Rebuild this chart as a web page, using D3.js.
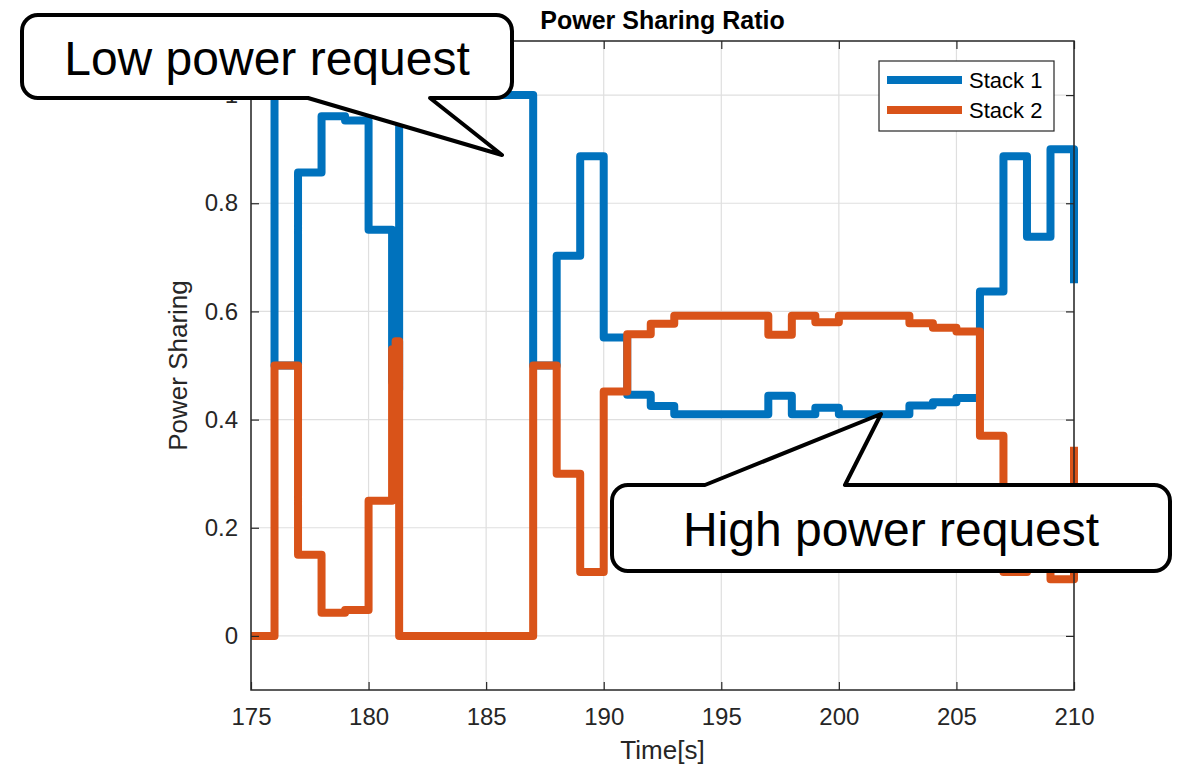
<!DOCTYPE html>
<html>
<head>
<meta charset="utf-8">
<script src="https://cdn.jsdelivr.net/npm/d3@7"></script>
<style>
  html, body { margin: 0; padding: 0; background: #fff; }
  svg { display: block; font-family: "Liberation Sans", Arial, Helvetica, sans-serif; }
</style>
</head>
<body>
<svg id="chart" width="1178" height="766"></svg>
<script>
// ---- data ----
const times = [175, 176, 177, 178, 179, 180, 181, 181.15, 181.3, 182, 183, 184, 185, 186,
               187, 188, 189, 190, 191, 192, 193, 194, 195, 196, 197, 198, 199, 200,
               201, 202, 203, 204, 205, 206, 207, 208, 209, 210];
const stack1 = [1.0, 0.5, 0.857, 0.961, 0.953, 0.751, 0.47, 0.455, 1.0, 1.0, 1.0, 1.0, 1.0, 1.0,
                0.5, 0.703, 0.887, 0.552, 0.446, 0.425, 0.41, 0.41, 0.41, 0.41, 0.444, 0.41, 0.422, 0.41,
                0.41, 0.41, 0.426, 0.432, 0.44, 0.637, 0.887, 0.738, 0.9, 0.652];
const stack2 = [0.0, 0.5, 0.15, 0.043, 0.048, 0.25, 0.53, 0.545, 0.0, 0.0, 0.0, 0.0, 0.0, 0.0,
                0.5, 0.3, 0.118, 0.452, 0.558, 0.577, 0.592, 0.592, 0.592, 0.592, 0.557, 0.592, 0.58, 0.592,
                0.592, 0.592, 0.578, 0.57, 0.563, 0.37, 0.118, 0.262, 0.105, 0.35];
const seriesNames = ["Stack 1", "Stack 2"];
const xTicks = [175, 180, 185, 190, 195, 200, 205, 210];
const yTicks = [0, 0.2, 0.4, 0.6, 0.8, 1];
const xDomain = [175, 210];
const yDomain = [-0.1, 1.1];
const titleText = "Power Sharing Ratio";
const xLabel = "Time[s]";
const yLabel = "Power Sharing";
const calloutLow = "Low power request";
const calloutHigh = "High power request";

// ---- layout ----
const L = 251, R = 1074, T = 41, B = 690;
const colors = ["#0072BD", "#D95319"];
const axisColor = "#262626";
const gridColor = "#dfdfdf";

const svg = d3.select("#chart");
const x = d3.scaleLinear().domain(xDomain).range([L, R]);
const y = d3.scaleLinear().domain(yDomain).range([B, T]);

// grid
const grid = svg.append("g");
grid.selectAll("line.gx").data(xTicks).join("line")
  .attr("x1", d => x(d)).attr("x2", d => x(d)).attr("y1", T).attr("y2", B)
  .attr("stroke", gridColor).attr("stroke-width", 1.2);
grid.selectAll("line.gy").data(yTicks).join("line")
  .attr("y1", d => y(d)).attr("y2", d => y(d)).attr("x1", L).attr("x2", R)
  .attr("stroke", gridColor).attr("stroke-width", 1.2);

// lines
const line = d3.line().x(d => x(d[0])).y(d => y(d[1])).curve(d3.curveStepAfter);
[stack1, stack2].forEach((vals, i) => {
  svg.append("path")
    .datum(times.map((t, k) => [t, vals[k]]))
    .attr("d", line)
    .attr("fill", "none")
    .attr("stroke", colors[i])
    .attr("stroke-width", 8)
    .attr("stroke-linejoin", "round")
    .attr("stroke-linecap", "butt");
});

// axes
function styleAxis(g) {
  g.select(".domain").remove();
  g.selectAll(".tick line").attr("stroke", axisColor).attr("stroke-width", 1.2);
  g.selectAll(".tick text").attr("fill", axisColor).attr("font-size", 24)
    .attr("font-family", "Liberation Sans, Arial, sans-serif");
}
const fmt = d3.format("~g");
svg.append("g").attr("transform", `translate(0,${B})`)
  .call(d3.axisBottom(x).tickValues(xTicks).tickFormat(fmt).tickSize(-8).tickPadding(18))
  .call(styleAxis);
svg.append("g").attr("transform", `translate(0,${T})`)
  .call(d3.axisTop(x).tickValues(xTicks).tickFormat("").tickSize(-8))
  .call(styleAxis);
svg.append("g").attr("transform", `translate(${L},0)`)
  .call(d3.axisLeft(y).tickValues(yTicks).tickFormat(fmt).tickSize(-8).tickPadding(13))
  .call(styleAxis);
svg.append("g").attr("transform", `translate(${R},0)`)
  .call(d3.axisRight(y).tickValues(yTicks).tickFormat("").tickSize(-8))
  .call(styleAxis);

// box
svg.append("rect").attr("x", L).attr("y", T).attr("width", R - L).attr("height", B - T)
  .attr("fill", "none").attr("stroke", axisColor).attr("stroke-width", 1.5);

// labels
svg.append("text").attr("x", (L + R) / 2).attr("y", 29).attr("text-anchor", "middle")
  .attr("font-size", 25).attr("font-weight", "bold").attr("fill", "#000").text(titleText);
svg.append("text").attr("x", (L + R) / 2).attr("y", 759).attr("text-anchor", "middle")
  .attr("font-size", 26).attr("fill", axisColor).text(xLabel);
svg.append("text").attr("transform", `translate(187,${(T + B) / 2}) rotate(-90)`)
  .attr("text-anchor", "middle").attr("font-size", 26).attr("fill", axisColor).text(yLabel);

// legend
const lg = svg.append("g");
lg.append("rect").attr("x", 879).attr("y", 61).attr("width", 175).attr("height", 70)
  .attr("fill", "#fff").attr("stroke", axisColor).attr("stroke-width", 1.2);
seriesNames.forEach((name, i) => {
  const yy = 80 + i * 30;
  lg.append("line").attr("x1", 887).attr("x2", 962).attr("y1", yy).attr("y2", yy)
    .attr("stroke", colors[i]).attr("stroke-width", 8);
  lg.append("text").attr("x", 969).attr("y", yy + 8).attr("font-size", 22)
    .attr("fill", "#000").text(name);
});

// callouts
function callout(x0, y0, x1, y1, r, side, a, b, tip) {
  const p = d3.path();
  p.moveTo(x0 + r, y0);
  if (side === "top") { p.lineTo(a, y0); p.lineTo(tip[0], tip[1]); p.lineTo(b, y0); }
  p.lineTo(x1 - r, y0);
  p.arcTo(x1, y0, x1, y0 + r, r);
  p.lineTo(x1, y1 - r);
  p.arcTo(x1, y1, x1 - r, y1, r);
  if (side === "bottom") { p.lineTo(b, y1); p.lineTo(tip[0], tip[1]); p.lineTo(a, y1); }
  p.lineTo(x0 + r, y1);
  p.arcTo(x0, y1, x0, y1 - r, r);
  p.lineTo(x0, y0 + r);
  p.arcTo(x0, y0, x0 + r, y0, r);
  p.closePath();
  return p.toString();
}
const co = svg.append("g");
co.append("path").attr("d", callout(22, 15, 512, 98, 16, "bottom", 308, 430, [502, 155]))
  .attr("fill", "#fff").attr("stroke", "#000").attr("stroke-width", 4).attr("stroke-linejoin", "round");
co.append("text").attr("x", 267).attr("y", 75).attr("text-anchor", "middle")
  .attr("font-size", 48).attr("fill", "#000").text(calloutLow);
co.append("path").attr("d", callout(612, 485, 1170, 571, 16, "top", 705, 845, [881, 414]))
  .attr("fill", "#fff").attr("stroke", "#000").attr("stroke-width", 4).attr("stroke-linejoin", "round");
co.append("text").attr("x", 891).attr("y", 546).attr("text-anchor", "middle")
  .attr("font-size", 48).attr("fill", "#000").text(calloutHigh);
</script>
</body>
</html>
